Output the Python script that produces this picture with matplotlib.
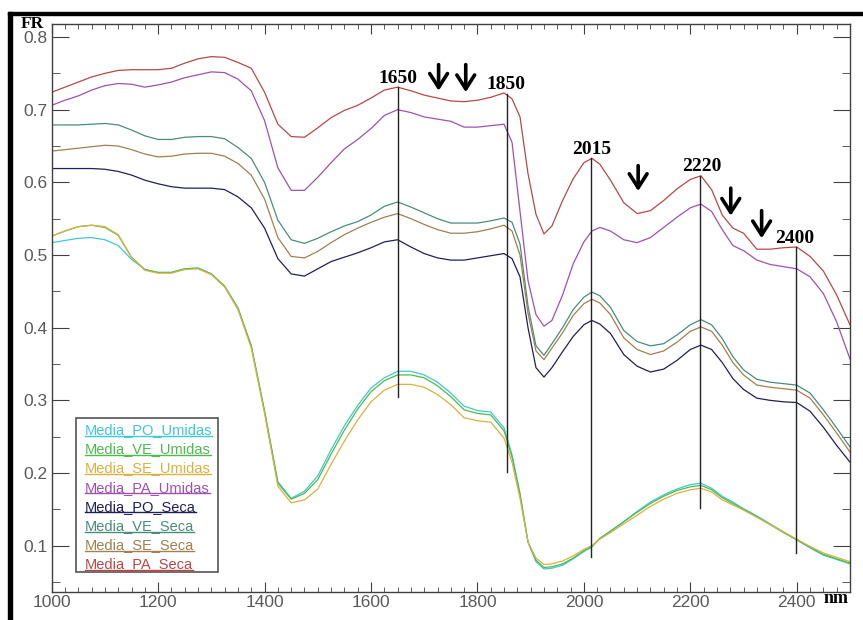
import numpy as np
import matplotlib
matplotlib.use('Agg')
import matplotlib.pyplot as plt
from matplotlib.patches import Rectangle
from matplotlib.lines import Line2D
from matplotlib.transforms import IdentityTransform
from matplotlib.ticker import MultipleLocator

# wavelengths (nm)
wl = [1000, 1025, 1050, 1075, 1100, 1125, 1150, 1175, 1200, 1225, 1250, 1275, 1300, 1325,
      1350, 1375, 1400, 1425, 1450, 1475, 1500, 1525, 1550, 1575, 1600, 1625, 1650, 1675,
      1700, 1725, 1750, 1775, 1800, 1825, 1850, 1865, 1880, 1895, 1910, 1925, 1940, 1960,
      1980, 2000, 2015, 2030, 2050, 2075, 2100, 2125, 2150, 2175, 2200, 2220, 2240, 2260,
      2280, 2300, 2325, 2350, 2375, 2400, 2425, 2450, 2475, 2500]

po_umidas = [0.517, 0.520, 0.523, 0.524, 0.521, 0.513, 0.494, 0.480, 0.476, 0.476, 0.481, 0.482, 0.474, 0.457,
             0.427, 0.375, 0.285, 0.188, 0.165, 0.175, 0.196, 0.232, 0.265, 0.293, 0.317, 0.331, 0.340, 0.340,
             0.335, 0.325, 0.310, 0.292, 0.286, 0.284, 0.262, 0.225, 0.172, 0.105, 0.078, 0.068, 0.069, 0.073,
             0.082, 0.092, 0.098, 0.110, 0.120, 0.133, 0.147, 0.160, 0.170, 0.178, 0.184, 0.186, 0.179, 0.168,
             0.160, 0.151, 0.141, 0.130, 0.119, 0.108, 0.097, 0.087, 0.081, 0.075]
ve_umidas = [0.526, 0.533, 0.539, 0.541, 0.538, 0.527, 0.497, 0.480, 0.476, 0.476, 0.481, 0.482, 0.474, 0.457,
             0.427, 0.375, 0.285, 0.186, 0.164, 0.172, 0.191, 0.226, 0.259, 0.288, 0.312, 0.327, 0.335, 0.335,
             0.331, 0.320, 0.305, 0.287, 0.282, 0.280, 0.258, 0.222, 0.170, 0.105, 0.080, 0.070, 0.071, 0.075,
             0.083, 0.093, 0.099, 0.110, 0.120, 0.133, 0.146, 0.158, 0.168, 0.176, 0.181, 0.183, 0.177, 0.166,
             0.158, 0.150, 0.140, 0.129, 0.118, 0.108, 0.098, 0.088, 0.082, 0.076]
se_umidas = [0.526, 0.533, 0.539, 0.541, 0.539, 0.528, 0.497, 0.479, 0.475, 0.475, 0.480, 0.481, 0.473, 0.456,
             0.425, 0.372, 0.282, 0.182, 0.159, 0.163, 0.178, 0.212, 0.244, 0.273, 0.298, 0.314, 0.322, 0.322,
             0.318, 0.308, 0.294, 0.276, 0.272, 0.270, 0.248, 0.215, 0.165, 0.105, 0.083, 0.074, 0.075, 0.079,
             0.086, 0.095, 0.100, 0.109, 0.118, 0.130, 0.142, 0.154, 0.164, 0.172, 0.177, 0.179, 0.174, 0.163,
             0.156, 0.149, 0.139, 0.129, 0.119, 0.109, 0.099, 0.090, 0.084, 0.078]
pa_umidas = [0.706, 0.713, 0.719, 0.727, 0.733, 0.736, 0.735, 0.731, 0.734, 0.738, 0.744, 0.748, 0.752, 0.751,
             0.742, 0.726, 0.685, 0.620, 0.589, 0.589, 0.607, 0.627, 0.646, 0.659, 0.674, 0.692, 0.700, 0.696,
             0.690, 0.687, 0.684, 0.676, 0.676, 0.678, 0.680, 0.655, 0.560, 0.465, 0.418, 0.402, 0.410, 0.445,
             0.488, 0.518, 0.533, 0.538, 0.533, 0.521, 0.517, 0.524, 0.538, 0.552, 0.565, 0.570, 0.560, 0.535,
             0.513, 0.506, 0.493, 0.487, 0.484, 0.481, 0.470, 0.447, 0.408, 0.357]
po_seca = [0.619, 0.619, 0.619, 0.619, 0.618, 0.615, 0.610, 0.603, 0.598, 0.594, 0.592, 0.592, 0.592, 0.590,
           0.580, 0.565, 0.537, 0.495, 0.474, 0.471, 0.481, 0.491, 0.497, 0.503, 0.510, 0.518, 0.521, 0.511,
           0.502, 0.496, 0.493, 0.493, 0.496, 0.499, 0.502, 0.495, 0.470, 0.400, 0.345, 0.332, 0.345, 0.367,
           0.388, 0.404, 0.410, 0.405, 0.392, 0.363, 0.347, 0.339, 0.343, 0.355, 0.370, 0.376, 0.370, 0.352,
           0.330, 0.315, 0.303, 0.300, 0.298, 0.297, 0.285, 0.263, 0.238, 0.215]
ve_seca = [0.679, 0.679, 0.679, 0.680, 0.681, 0.679, 0.672, 0.664, 0.659, 0.659, 0.662, 0.663, 0.663, 0.660,
           0.648, 0.633, 0.600, 0.548, 0.521, 0.516, 0.523, 0.532, 0.540, 0.546, 0.555, 0.567, 0.573, 0.566,
           0.558, 0.550, 0.544, 0.544, 0.544, 0.547, 0.551, 0.545, 0.515, 0.430, 0.375, 0.362, 0.378, 0.400,
           0.425, 0.442, 0.449, 0.444, 0.428, 0.396, 0.381, 0.375, 0.378, 0.390, 0.404, 0.411, 0.404, 0.385,
           0.360, 0.342, 0.329, 0.325, 0.323, 0.321, 0.310, 0.287, 0.262, 0.236]
se_seca = [0.643, 0.645, 0.647, 0.649, 0.651, 0.650, 0.645, 0.639, 0.635, 0.636, 0.639, 0.640, 0.640, 0.636,
           0.626, 0.610, 0.577, 0.524, 0.498, 0.496, 0.505, 0.517, 0.528, 0.537, 0.545, 0.552, 0.557, 0.550,
           0.542, 0.535, 0.530, 0.530, 0.532, 0.536, 0.541, 0.533, 0.500, 0.420, 0.368, 0.356, 0.372, 0.393,
           0.417, 0.433, 0.439, 0.434, 0.418, 0.386, 0.370, 0.363, 0.368, 0.380, 0.395, 0.401, 0.395, 0.376,
           0.352, 0.335, 0.321, 0.318, 0.316, 0.314, 0.303, 0.280, 0.255, 0.229]
pa_seca = [0.724, 0.731, 0.738, 0.745, 0.750, 0.754, 0.755, 0.755, 0.755, 0.757, 0.764, 0.770, 0.773, 0.772,
           0.765, 0.757, 0.724, 0.680, 0.663, 0.662, 0.675, 0.689, 0.699, 0.706, 0.716, 0.727, 0.731, 0.726,
           0.720, 0.716, 0.712, 0.711, 0.713, 0.717, 0.723, 0.715, 0.690, 0.612, 0.556, 0.529, 0.540, 0.575,
           0.605, 0.627, 0.633, 0.625, 0.603, 0.572, 0.557, 0.561, 0.575, 0.591, 0.604, 0.609, 0.590, 0.555,
           0.537, 0.530, 0.508, 0.508, 0.510, 0.511, 0.498, 0.478, 0.445, 0.404]

names = ['Media_PO_Umidas', 'Media_VE_Umidas', 'Media_SE_Umidas', 'Media_PA_Umidas',
         'Media_PO_Seca', 'Media_VE_Seca', 'Media_SE_Seca', 'Media_PA_Seca']
series = [po_umidas, ve_umidas, se_umidas, pa_umidas, po_seca, ve_seca, se_seca, pa_seca]
colors = ['#3ec8d2', '#4cbb4c', '#dcb040', '#a050b0', '#202058', '#4a8c7c', '#a08050', '#b84848']

# marked bands
band_x = [1650, 1855, 2013, 2218, 2398]
band_top = [0.731, 0.722, 0.633, 0.609, 0.511]
band_bottom = [0.305, 0.202, 0.085, 0.152, 0.090]
band_labels = ['1650', '1850', '2015', '2220', '2400']
label_x = [1650, 1854, 2015, 2221, 2396]

# arrows
arrow_x = [1727, 1778, 2102, 2276, 2334]
arrow_top = [0.762, 0.762, 0.623, 0.592, 0.561]
arrow_bottom = [0.726, 0.724, 0.588, 0.554, 0.523]

fig = plt.figure(figsize=(8.63, 6.20), dpi=100)
ax = fig.add_axes([0.0599, 0.0452, 0.9250, 0.9161])

for s, c in zip(series, colors):
    ax.plot(wl, s, color=c, lw=0.9)

for x, t, b in zip(band_x, band_top, band_bottom):
    ax.plot([x, x], [b, t], color='#222222', lw=1.0)

serif = 'Liberation Serif'
for lab, x, t in zip(band_labels, label_x, band_top):
    ax.text(x, t + 0.006, lab, ha='center', va='baseline', fontsize=14,
            fontweight='bold', family=serif)

for x, t, b in zip(arrow_x, arrow_top, arrow_bottom):
    ax.annotate('', xy=(x, b), xytext=(x, t),
                arrowprops=dict(arrowstyle='->,head_length=0.5,head_width=0.32',
                                lw=2.6, color='black', mutation_scale=20,
                                shrinkA=0, shrinkB=0))

ax.set_xlim(1000, 2500)
ax.set_ylim(0.0363, 0.8179)
ax.xaxis.set_major_locator(MultipleLocator(200))
ax.xaxis.set_minor_locator(MultipleLocator(25))
ax.yaxis.set_major_locator(MultipleLocator(0.1))
ax.yaxis.set_minor_locator(MultipleLocator(0.05))
ax.yaxis.set_major_formatter(matplotlib.ticker.FormatStrFormatter('%.1f'))

tc = '#404040'
ax.tick_params(axis='both', which='both', direction='in', top=True, right=True, color=tc,
               labelcolor='#5a5a5a', labelsize=12.5)
ax.tick_params(axis='x', which='major', length=7, pad=2)
ax.tick_params(axis='x', which='minor', length=3.5)
ax.tick_params(axis='y', which='major', length=12, pad=3)
ax.tick_params(axis='y', which='minor', length=6)
for lab in ax.get_xticklabels() + ax.get_yticklabels():
    lab.set_family('Liberation Sans')
for sp in ax.spines.values():
    sp.set_color(tc)
    sp.set_linewidth(1.0)

# axis names
fig.text(21 / 863, 1 - 28 / 620, 'FR', fontsize=12.5, fontweight='bold', family=serif,
         ha='left', va='baseline')
fig.text(824 / 863, 1 - 603 / 620, 'nm', fontsize=13, fontweight='bold', family=serif,
         ha='left', va='baseline')

# legend box with coloured, underlined names
ax.add_patch(Rectangle((0.0304, 0.0352), 0.1779, 0.2711, transform=ax.transAxes,
                       fill=False, edgecolor='#555555', lw=1.2, zorder=5))
leg_texts = []
for i, (n, c) in enumerate(zip(names, colors)):
    t = ax.text(0.0417, 0.285 - i * 0.0338, n, color=c, fontsize=10.5,
                family='Liberation Sans', ha='left', va='center', transform=ax.transAxes,
                zorder=6)
    leg_texts.append(t)

# black frame remnants along top and left
fig.patches.append(Rectangle((8 / 863, 0), 4 / 863, (620 - 12) / 620,
                             transform=fig.transFigure, color='black'))
fig.patches.append(Rectangle((8 / 863, (620 - 15) / 620), (863 - 8) / 863, 3 / 620,
                             transform=fig.transFigure, color='black'))

fig.canvas.draw()
r = fig.canvas.get_renderer()
for t in leg_texts:
    bb = t.get_window_extent(r)
    fig.add_artist(Line2D([bb.x0, bb.x1], [bb.y0 + 1.5, bb.y0 + 1.5], color=t.get_color(),
                          lw=1.0, transform=IdentityTransform()))

fig.savefig('out.png', dpi=100)
